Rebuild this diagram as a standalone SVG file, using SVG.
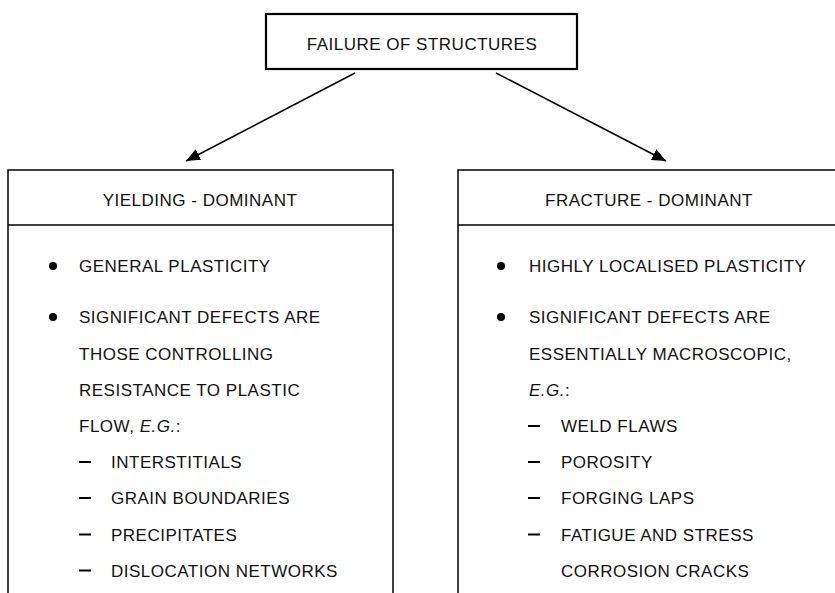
<svg xmlns="http://www.w3.org/2000/svg" width="835" height="593" viewBox="0 0 835 593">
<defs>
<marker id="ah" viewBox="0 0 14 12" refX="14" refY="6" markerWidth="14" markerHeight="12" markerUnits="userSpaceOnUse" orient="auto">
<path d="M0,0 L14,6 L0,12 Z" fill="#000"/>
</marker>
</defs>
<style>
text{font-family:"Liberation Sans",Arial,sans-serif;font-size:17px;letter-spacing:0.5px;fill:#111}
.c{text-anchor:middle}
.box{fill:none;stroke:#000;stroke-width:1.5}
.bul{fill:#000}
.dash{stroke:#000;stroke-width:2}
.conn{stroke:#000;stroke-width:1.5;fill:none}
</style>
<rect width="835" height="593" fill="#fff"/>
<g id="connectors">
<line class="conn" x1="355" y1="73" x2="186" y2="161" marker-end="url(#ah)"/>
<line class="conn" x1="496" y1="73" x2="666" y2="161" marker-end="url(#ah)"/>
</g>
<g id="top">
<rect x="266" y="14" width="311" height="55" fill="none" stroke="#000" stroke-width="2.2"/>
<text class="c" x="422" y="50">FAILURE OF STRUCTURES</text>
</g>
<g id="yielding">
<path class="box" d="M8,593 V170 H393 V593"/>
<line class="box" x1="8" y1="225" x2="393" y2="225"/>
<text class="c" x="200" y="206">YIELDING - DOMINANT</text>
<circle class="bul" cx="53" cy="266" r="4"/>
<text x="79" y="272">GENERAL PLASTICITY</text>
<circle class="bul" cx="53" cy="317" r="4"/>
<text x="79" y="323">SIGNIFICANT DEFECTS ARE</text>
<text x="79" y="359.5">THOSE CONTROLLING</text>
<text x="79" y="395.7">RESISTANCE TO PLASTIC</text>
<text x="79" y="431.7">FLOW, <tspan font-style="italic">E.G.</tspan>:</text>
<line class="dash" x1="79" y1="462" x2="91" y2="462"/>
<text x="111" y="468">INTERSTITIALS</text>
<line class="dash" x1="79" y1="498" x2="91" y2="498"/>
<text x="111" y="504">GRAIN BOUNDARIES</text>
<line class="dash" x1="79" y1="534.5" x2="91" y2="534.5"/>
<text x="111" y="540.5">PRECIPITATES</text>
<line class="dash" x1="79" y1="570.5" x2="91" y2="570.5"/>
<text x="111" y="576.7">DISLOCATION NETWORKS</text>
</g>
<g id="fracture">
<path class="box" d="M458,593 V170 H841 V593"/>
<line class="box" x1="458" y1="225" x2="841" y2="225"/>
<text class="c" x="649" y="206">FRACTURE - DOMINANT</text>
<circle class="bul" cx="501" cy="266" r="4"/>
<text x="529" y="272">HIGHLY LOCALISED PLASTICITY</text>
<circle class="bul" cx="501" cy="317" r="4"/>
<text x="529" y="323">SIGNIFICANT DEFECTS ARE</text>
<text x="529" y="359.5">ESSENTIALLY MACROSCOPIC,</text>
<text x="529" y="395.7"><tspan font-style="italic">E.G.</tspan>:</text>
<line class="dash" x1="528" y1="426" x2="540" y2="426"/>
<text x="561" y="431.7">WELD FLAWS</text>
<line class="dash" x1="528" y1="462" x2="540" y2="462"/>
<text x="561" y="468">POROSITY</text>
<line class="dash" x1="528" y1="498" x2="540" y2="498"/>
<text x="561" y="504">FORGING LAPS</text>
<line class="dash" x1="528" y1="534.5" x2="540" y2="534.5"/>
<text x="561" y="540.5">FATIGUE AND STRESS</text>
<text x="561" y="576.7">CORROSION CRACKS</text>
</g>
</svg>
